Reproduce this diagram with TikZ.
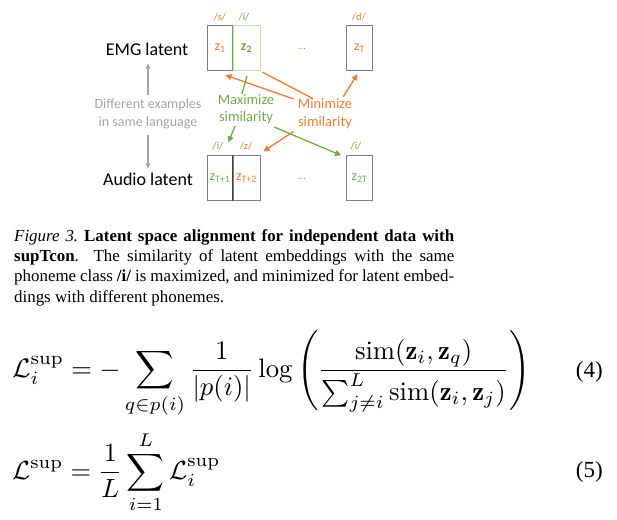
\documentclass[tikz,border=0pt]{standalone}
\usepackage{fontspec}
\usepackage{amsmath,graphicx}
\usetikzlibrary{arrows.meta,calc}
\newfontfamily\dfont{Carlito}
\newfontfamily\capfont{Liberation Serif}
\definecolor{orng}{HTML}{ED7D31}
\definecolor{grn}{HTML}{70AD47}
\definecolor{lgrn}{HTML}{C5E0B4}
\definecolor{gtxt}{HTML}{A6A6A6}
\definecolor{boxgray}{HTML}{808080}
\definecolor{divgray}{HTML}{404040}
\tikzset{
  zbox/.style={draw=boxgray, line width=0.9pt, minimum width=26pt, minimum height=45pt, inner sep=0pt, font=\dfont\fontsize{14}{16}\selectfont},
  ph/.style={font=\dfont\fontsize{10.5}{12}\selectfont, inner sep=0pt},
  dotsnode/.style={font=\dfont\fontsize{10}{12}\selectfont, inner sep=0pt, text=orng},
  rowlbl/.style={font=\dfont\fontsize{18}{20}\selectfont, inner sep=0pt},
  simlbl/.style={font=\dfont\fontsize{14.5}{17.5}\selectfont, align=center, inner sep=0pt},
  oarr/.style={draw=orng, line width=1.3pt, -{Triangle[length=6pt,width=6pt]}},
  oline/.style={draw=orng, line width=1.3pt},
  garr/.style={draw=grn, line width=1.3pt, -{Triangle[length=6pt,width=6pt]}},
  gline/.style={draw=grn, line width=1.3pt},
  grayarr/.style={draw=gtxt, line width=1.3pt, -{Triangle[length=5pt,width=5pt]}},
  tag/.style={font=\capfont\fontsize{23}{26}\selectfont, inner sep=0pt},
}
\begin{document}
\begin{tikzpicture}[x=1pt,y=-1pt]
\useasboundingbox (0,0) rectangle (617,519);
% EMG row
\node[zbox, text=orng] (z1) at (220,48.2) {z\textsubscript{1}};
\node[zbox, draw=lgrn, text=grn, minimum width=27pt] (z2) at (246.5,48.2) {\bfseries z\textsubscript{2}};
\draw[grn, line width=0.9pt] (z2.north west) -- (z2.south west);
\node[zbox, text=orng] (zT) at (359.5,48.2) {z\textsubscript{T}};
\node[dotsnode] (dots1) at (302,49) {...};
\node[ph, text=orng] (p1) at (220,17) {/s/};
\node[ph, text=grn] (p2) at (244,17) {/i/};
\node[ph, text=orng] (p3) at (359,17) {/d/};
% Audio row
\node[zbox, text=grn] (t1) at (220,178.3) {z\textsubscript{T+1}};
\node[zbox, text=orng, minimum width=27pt] (t2) at (246.5,178.3) {z\textsubscript{T+2}};
\draw[divgray, line width=0.9pt] (t2.north west) -- (t2.south west);
\node[zbox, text=grn] (t3) at (359.5,178.3) {z\textsubscript{2T}};
\node[dotsnode] (dots2) at (302,179) {...};
\node[ph, text=grn] (q1) at (218,146) {/i/};
\node[ph, text=orng] (q2) at (246,146) {/z/};
\node[ph, text=grn] (q3) at (356,146) {/i/};
% row labels
\node[rowlbl] (emg) at (147,49) {EMG latent};
\node[rowlbl] (audio) at (148,179) {Audio latent};
\node[simlbl, text=gtxt, font=\dfont\fontsize{14}{18}\selectfont] (diff) at (148,114) {Different examples\\in same language};
\draw[grayarr] ($(diff.north)+(0,-4)$) -- ($(diff.north |- emg.south)+(0,8)$);
\draw[grayarr] ($(diff.south)+(0,6)$) -- ($(diff.south |- audio.north)+(0,-4)$);
% similarity labels
\node[simlbl, text=grn] (maxl) at (246,109) {Maximize\\similarity};
\node[simlbl, text=orng, font=\dfont\fontsize{14.5}{18}\selectfont] (minl) at (325,114) {Minimize\\similarity};
% green connectors
\draw[gline] ($(z2.south)+(0.5,5)$) -- ($(maxl.north)+(-4,0)$);
\draw[garr] ($(maxl.south)+(-11,2)$) -- ($(t1.north east)+(-5,-13)$);
\draw[garr] ($(maxl.south east)+(0,3)$) -- ($(t3.north west)+(-5,0)$);
% orange connectors
\draw[oarr] ($(minl.west)+(-4,-15)$) -- ($(z1.south east)+(-8,4)$);
\draw[oline] ($(z2.south east)+(2,1)$) -- ($(minl.north)+(-12,0)$);
\draw[oarr] ($(minl.north east)+(-9,-2)$) -- ($(zT.south)+(-2,3)$);
\draw[oarr] ($(minl.south west)+(-4,2)$) -- ($(t2.north east)+(3,-4)$);
% caption
\node[anchor=north west, inner sep=0pt, text width=440pt, align=justify,
      font=\capfont\fontsize{16.9}{20.3}\selectfont] (cap) at (14,229)
{\emergencystretch=2em \textit{Figure 3.}\ \textbf{Latent space alignment for independent data with\linebreak supTcon}. The similarity of latent embeddings with the same\linebreak phoneme class \textbf{/i/} is maximized, and minimized for latent embed-\linebreak dings with different phonemes.};
% equations
\node[anchor=west, inner sep=0pt] (eq4) at (12,374)
{\resizebox{518pt}{!}{$\displaystyle \mathcal{L}_i^{\mathrm{sup}} = -\sum_{q\in p(i)}\frac{1}{|p(i)|}\log\left(\frac{\mathrm{sim}(\mathbf{z}_i,\mathbf{z}_q)}{\sum_{j\neq i}^{L}\mathrm{sim}(\mathbf{z}_i,\mathbf{z}_j)}\right)$}};
\node[anchor=west, inner sep=0pt] (eq5) at (12,472)
{\resizebox{208pt}{!}{$\displaystyle \mathcal{L}^{\mathrm{sup}} = \frac{1}{L}\sum_{i=1}^{L}\mathcal{L}_i^{\mathrm{sup}}$}};
\node[tag, anchor=east] (tag4) at (603,372) {(4)};
\node[tag, anchor=east] (tag5) at (603,472) {(5)};
\end{tikzpicture}
\end{document}
